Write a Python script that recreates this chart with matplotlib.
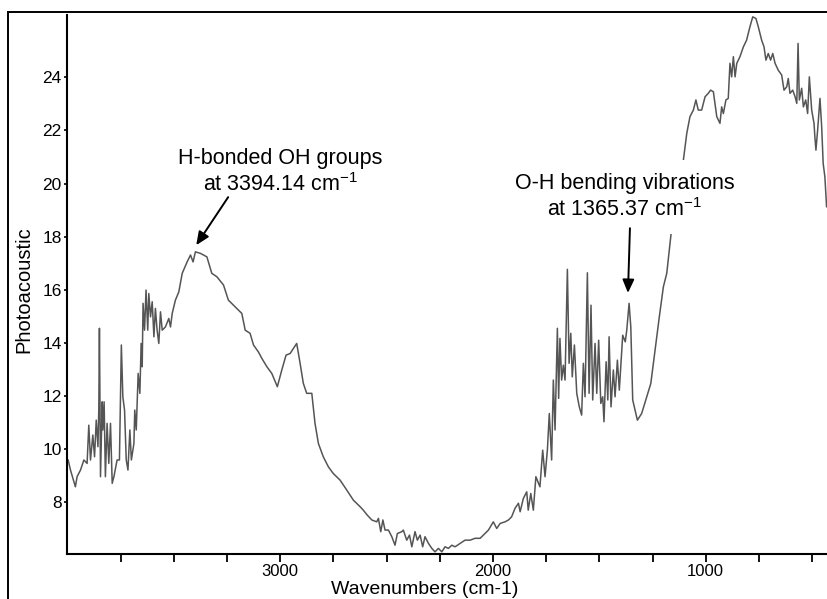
import matplotlib
matplotlib.use("Agg")
import matplotlib.pyplot as plt
from matplotlib.patches import Rectangle
import numpy as np

plt.rcParams['font.family'] = ['Liberation Sans', 'DejaVu Sans']
plt.rcParams['mathtext.fontset'] = 'custom'
plt.rcParams['mathtext.rm'] = 'Liberation Sans'

# spectrum (wavenumber, photoacoustic signal)
wavenumber = [
    3996, 3985, 3962, 3954, 3938, 3922, 3907, 3899, 3891, 3880,
    3872, 3864, 3856, 3852, 3849, 3844, 3836, 3833, 3827, 3821,
    3813, 3805, 3797, 3789, 3781, 3766, 3755, 3746, 3739, 3731,
    3723, 3715, 3706, 3699, 3687, 3683, 3676, 3667, 3659, 3653,
    3648, 3644, 3637, 3630, 3622, 3617, 3609, 3601, 3593, 3586,
    3578, 3570, 3562, 3554, 3539, 3523, 3515, 3507, 3492, 3476,
    3460, 3437, 3421, 3409, 3398, 3374, 3344, 3321, 3297, 3266,
    3243, 3219, 3180, 3164, 3141, 3125, 3102, 3086, 3062, 3039,
    3013, 2992, 2972, 2953, 2922, 2906, 2891, 2875, 2851, 2836,
    2820, 2797, 2773, 2750, 2718, 2687, 2656, 2624, 2609, 2590,
    2569, 2546, 2538, 2527, 2517, 2507, 2491, 2475, 2460, 2449,
    2428, 2421, 2405, 2392, 2381, 2366, 2355, 2342, 2330, 2319,
    2303, 2287, 2272, 2256, 2240, 2225, 2209, 2193, 2178, 2154,
    2131, 2107, 2084, 2060, 2037, 2021, 1998, 1982, 1966, 1943,
    1927, 1912, 1896, 1880, 1872, 1857, 1841, 1834, 1822, 1810,
    1798, 1779, 1766, 1755, 1744, 1735, 1724, 1716, 1708, 1697,
    1691, 1685, 1677, 1669, 1661, 1650, 1642, 1634, 1627, 1617,
    1606, 1594, 1583, 1575, 1567, 1556, 1548, 1539, 1531, 1520,
    1512, 1503, 1493, 1484, 1478, 1468, 1460, 1454, 1445, 1434,
    1426, 1415, 1406, 1390, 1378, 1371, 1360, 1352, 1343, 1321,
    1301, 1277, 1258, 1238, 1218, 1199, 1183, 1171, 1160, 1105,
    1089, 1074, 1058, 1046, 1035, 1019, 1003, 988, 977, 964,
    948, 933, 925, 917, 905, 894, 886, 878, 870, 862,
    854, 839, 823, 808, 792, 779, 764, 753, 737, 726,
    717, 706, 695, 685, 674, 659, 643, 632, 619, 612,
    604, 591, 580, 572, 566, 560, 549, 541, 530, 521,
    513, 502, 491, 487, 482, 474, 463, 455, 448, 440,
    432,
]
signal = [
    9.59, 9.21, 8.58, 8.96, 9.21, 9.59, 9.46, 10.90, 9.59, 10.53,
    9.71, 11.09, 10.09, 11.47, 14.55, 8.96, 11.78, 10.72, 11.78, 8.96,
    10.97, 9.46, 10.97, 8.71, 8.96, 9.59, 9.59, 13.92, 11.97, 11.47,
    9.59, 9.21, 10.72, 9.59, 10.21, 11.47, 10.72, 12.85, 12.10, 13.98,
    13.10, 15.49, 14.48, 15.99, 14.48, 15.86, 14.98, 15.55, 14.23, 15.30,
    14.48, 13.98, 15.17, 14.48, 14.60, 14.92, 14.60, 15.11, 15.61, 15.92,
    16.62, 17.05, 17.31, 17.05, 17.43, 17.37, 17.24, 16.62, 16.49, 16.18,
    15.61, 15.42, 15.11, 14.48, 14.36, 13.92, 13.66, 13.42, 13.10, 12.85,
    12.35, 12.98, 13.54, 13.60, 13.98, 13.23, 12.48, 12.10, 12.10, 10.97,
    10.21, 9.71, 9.33, 9.08, 8.83, 8.46, 8.08, 7.83, 7.70, 7.51,
    7.33, 7.26, 7.39, 6.89, 7.33, 6.95, 6.95, 6.70, 6.38, 6.82,
    6.89, 6.95, 6.57, 6.76, 6.32, 6.89, 6.57, 6.76, 6.32, 6.70,
    6.45, 6.26, 6.13, 6.26, 6.13, 6.32, 6.26, 6.38, 6.32, 6.45,
    6.57, 6.57, 6.64, 6.64, 6.82, 6.95, 7.26, 7.01, 7.20, 7.26,
    7.33, 7.45, 7.77, 7.96, 7.64, 8.14, 8.39, 7.70, 8.33, 7.70,
    8.96, 8.58, 9.96, 8.96, 9.96, 11.34, 9.59, 12.60, 10.72, 14.55,
    11.91, 14.17, 12.60, 13.16, 12.60, 16.77, 13.23, 14.36, 12.72, 13.92,
    12.10, 11.59, 11.28, 13.23, 11.97, 16.64, 12.10, 15.42, 11.85, 13.98,
    12.10, 14.10, 11.72, 11.97, 11.03, 13.29, 11.85, 14.23, 11.59, 12.98,
    11.97, 13.35, 12.22, 14.29, 14.04, 14.48, 15.49, 14.60, 11.85, 11.09,
    11.34, 11.97, 12.47, 13.73, 14.98, 16.11, 16.62, 17.49, 18.31, 20.88,
    21.89, 22.52, 22.77, 23.15, 22.77, 22.77, 23.27, 23.40, 23.52, 23.46,
    22.52, 22.27, 22.89, 22.64, 23.15, 23.21, 24.53, 24.02, 24.78, 24.02,
    24.53, 24.78, 25.15, 25.40, 25.91, 26.28, 26.22, 25.91, 25.40, 25.15,
    24.65, 24.90, 24.65, 24.90, 24.53, 24.27, 24.09, 23.52, 23.65, 23.96,
    23.40, 23.52, 23.27, 23.02, 25.28, 23.15, 23.59, 22.89, 23.15, 22.64,
    24.02, 22.77, 22.27, 21.76, 21.26, 22.02, 23.21, 22.14, 20.76, 20.26,
    19.13,
]

x_ticks = [3750, 3500, 3250, 3000, 2750, 2500, 2250, 2000,
           1750, 1500, 1250, 1000, 750, 500]
x_tick_labels = ['', '', '', '3000', '', '', '', '2000',
                 '', '', '', '1000', '', '']
y_ticks = [8, 10, 12, 14, 16, 18, 20, 22, 24]

peak_oh = 3394.14
peak_bend = 1365.37

fig = plt.figure(figsize=(8.27, 5.99), dpi=100)
ax = fig.add_axes([67.3 / 827, 45.3 / 599, 759.7 / 827, 538.7 / 599])

ax.plot(wavenumber, signal, color='#555555', lw=1.1, zorder=2)

ax.set_xlim(4000, 430)
ax.set_ylim(6.06, 26.35)

ax.set_xticks(x_ticks)
ax.set_xticklabels(x_tick_labels)
ax.set_yticks(y_ticks)
ax.tick_params(axis='x', direction='out', length=6, width=1.3,
               labelsize=12, pad=1.5)
ax.tick_params(axis='y', direction='out', length=2.5, width=1.2,
               labelsize=12.5, pad=1.5)

for side in ('top', 'right'):
    ax.spines[side].set_visible(False)
for side in ('left', 'bottom'):
    ax.spines[side].set_linewidth(1.5)

ax.set_xlabel('Wavenumbers (cm-1)', fontsize=14)
ax.xaxis.set_label_coords(0.471, -0.0498)
ax.xaxis.label.set_va('top')
ax.set_ylabel('Photoacoustic', fontsize=14.5)
ax.yaxis.set_label_coords(-0.044, 0.491)

# annotations
sup = r'$\mathregular{^{-1}}$'
box = dict(boxstyle='square,pad=0.6', fc='white', ec='none')
ax.text(3000, 20.43, 'H-bonded OH groups\nat %.2f cm' % peak_oh + sup,
        ha='center', va='center', fontsize=15.5, linespacing=1.2,
        zorder=3)
ax.text(1380, 19.49, 'O-H bending vibrations\nat %.2f cm' % peak_bend + sup,
        ha='center', va='center', fontsize=15.5, linespacing=1.2,
        bbox=box, zorder=3)

arrow = dict(arrowstyle='-|>,head_length=0.8,head_width=0.35',
             color='black', lw=1.4, shrinkA=0, shrinkB=0)
ax.annotate('', xy=(peak_oh, 17.68), xytext=(3244, 19.49),
            arrowprops=arrow, zorder=4)
ax.annotate('', xy=(peak_bend, 15.88), xytext=(1356, 18.32),
            arrowprops=arrow, zorder=4)

# outer frame round the picture
fig.add_artist(Rectangle((8 / 827, -0.1), 1.2, 1.1 - 12 / 599,
                         transform=fig.transFigure, fill=False,
                         ec='black', lw=1.4))

fig.savefig('out.png', dpi=100)
